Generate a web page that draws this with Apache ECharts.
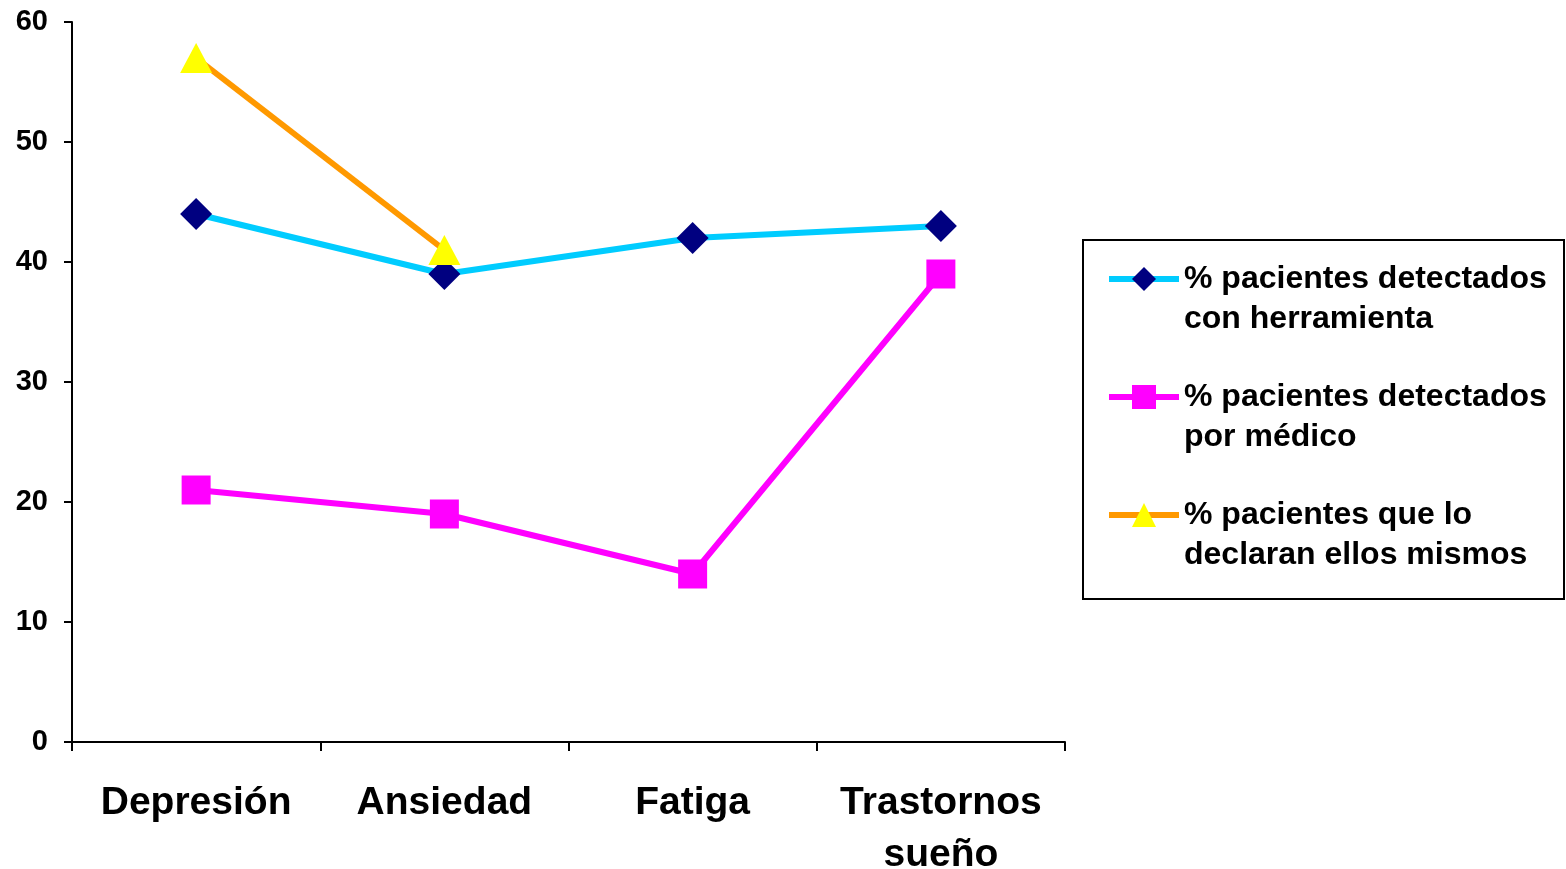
<!DOCTYPE html>
<html>
<head>
<meta charset="utf-8">
<style>
  html, body { margin: 0; padding: 0; background: #ffffff; }
  #chart { width: 1566px; height: 869px; }
</style>
<script src="https://cdn.jsdelivr.net/npm/echarts@6/dist/echarts.min.js"></script>
</head>
<body>
<div id="chart"></div>
<script>
// Síntomas evaluados
const categories = ['Depresión', 'Ansiedad', 'Fatiga', 'Trastornos\nsueño'];

// % de pacientes por método de detección
const herramienta = [44, 39, 42, 43];
const medico = [21, 19, 14, 39];
const declarados = [57, 41, null, null];

const seriesNames = [
  '% pacientes detectados\ncon herramienta',
  '% pacientes detectados\npor médico',
  '% pacientes que lo\ndeclaran ellos mismos'
];

const yTicks = { min: 0, max: 60, interval: 10 };

const FONT = '"Liberation Sans", Arial, sans-serif';

const chart = echarts.init(document.getElementById('chart'), null, { renderer: 'canvas' });

chart.setOption({
  animation: false,
  backgroundColor: '#ffffff',
  grid: {
    left: 72, right: 501, top: 22, bottom: 127,
    containLabel: false, outerBoundsMode: 'none'
  },
  xAxis: {
    type: 'category',
    data: categories,
    boundaryGap: true,
    axisLine: { show: true, lineStyle: { color: '#000', width: 2 } },
    axisTick: { show: true, alignWithLabel: false, length: 9, lineStyle: { color: '#000', width: 2 } },
    axisLabel: {
      color: '#000', fontFamily: FONT, fontWeight: 'bold', fontSize: 39,
      lineHeight: 52, margin: 35, interval: 0
    },
    splitLine: { show: false }
  },
  yAxis: {
    type: 'value',
    min: yTicks.min, max: yTicks.max, interval: yTicks.interval,
    axisLine: { show: true, lineStyle: { color: '#000', width: 2 } },
    axisTick: { show: true, length: 8, lineStyle: { color: '#000', width: 2 } },
    axisLabel: { color: '#000', fontFamily: FONT, fontWeight: 'bold', fontSize: 29, margin: 24 },
    splitLine: { show: false }
  },
  legend: {
    orient: 'vertical',
    left: 1106,
    top: 219,
    padding: 0,
    itemWidth: 70,
    itemHeight: 30,
    itemGap: -2,
    borderWidth: 0,
    lineStyle: { width: 6 },
    // blank first row keeps each symbol level with the first line of its label
    formatter: name => '\n' + name,
    textStyle: {
      color: '#000', fontFamily: FONT, fontWeight: 'bold', fontSize: 32,
      lineHeight: 40
    },
    data: seriesNames
  },
  graphic: [{
    type: 'rect',
    shape: { x: 1083, y: 240, width: 481, height: 359 },
    style: { fill: 'none', stroke: '#000', lineWidth: 2 },
    silent: true
  }],
  series: [
    {
      name: seriesNames[0], type: 'line', data: herramienta,
      lineStyle: { color: '#00CCFF', width: 6 },
      itemStyle: { color: '#000080' },
      symbol: 'diamond', symbolSize: [32, 32], showAllSymbol: true
    },
    {
      name: seriesNames[1], type: 'line', data: medico,
      lineStyle: { color: '#FF00FF', width: 6 },
      itemStyle: { color: '#FF00FF' },
      symbol: 'rect', symbolSize: [29, 29], showAllSymbol: true
    },
    {
      name: seriesNames[2], type: 'line', data: declarados,
      lineStyle: { color: '#FF9900', width: 6 },
      itemStyle: { color: '#FFFF00' },
      symbol: 'triangle', symbolSize: [32, 30], showAllSymbol: true,
      connectNulls: false
    }
  ]
});
</script>
</body>
</html>
